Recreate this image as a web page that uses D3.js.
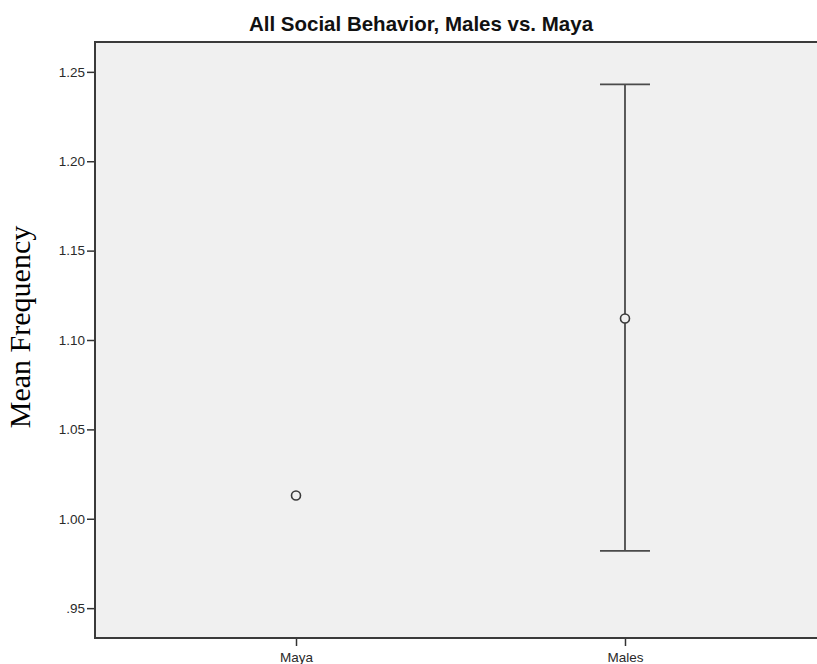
<!DOCTYPE html>
<html>
<head>
    <meta charset="utf-8">
    <title>All Social Behavior, Males vs. Maya</title>
    <style>
        body {
            margin: 0;
            background: #ffffff;
        }
        svg {
            display: block;
        }
        .axis text {
            font-family: "Liberation Sans", Arial, sans-serif;
            font-size: 13.5px;
            fill: #2a2a2a;
        }
        .axis line {
            stroke: #333333;
            stroke-width: 1.5px;
        }
        .axis path {
            display: none;
        }
    </style>
    <script src="https://cdn.jsdelivr.net/npm/d3@7"></script>
</head>
<body>
<script>
    // data
    const groups = ["Maya", "Males"];
    const means = [1.013, 1.112];
    const lowerCI = [null, 0.982];
    const upperCI = [null, 1.243];
    const yTicks = [0.95, 1.00, 1.05, 1.10, 1.15, 1.20, 1.25];
    const yDomain = [0.9333, 1.2667];

    const width = 817,
        height = 664,
        margin = {top: 42, left: 95},
        plotW = 731,
        plotH = 596;

    let svg = d3.select('body').append('svg')
        .attr('width', width)
        .attr('height', height);

    let g = svg.append('g')
        .attr('transform', 'translate(' + margin.left + ',' + margin.top + ')');

    let x = d3.scalePoint()
        .domain(groups)
        .range([0, plotW])
        .padding(0.611);

    let y = d3.scaleLinear()
        .domain(yDomain)
        .range([plotH, 0]);

    // plot background
    g.append('rect')
        .attr('width', plotW)
        .attr('height', plotH)
        .attr('fill', '#f0f0f0');

    // axes
    g.append('g')
        .attr('class', 'axis y')
        .call(d3.axisLeft(y)
            .tickValues(yTicks)
            .tickSize(8)
            .tickPadding(2)
            .tickFormat(d => d3.format('.2f')(d).replace(/^0/, '')));

    g.append('g')
        .attr('class', 'axis x')
        .attr('transform', 'translate(0,' + plotH + ')')
        .call(d3.axisBottom(x)
            .tickSize(8)
            .tickPadding(6));

    // frame (top, left, bottom; right side runs off the page)
    g.append('path')
        .attr('d', 'M' + plotW + ',0H0V' + plotH + 'H' + plotW)
        .attr('fill', 'none')
        .attr('stroke', '#3a3a3a')
        .attr('stroke-width', 2);

    // error bars
    const capHalf = 25;
    let bars = g.append('g')
        .attr('class', 'errorbars')
        .selectAll('g')
        .data(groups.map((d, i) => ({group: d, lo: lowerCI[i], hi: upperCI[i]})).filter(d => d.lo != null))
        .enter().append('g')
        .attr('stroke', '#4a4a4a')
        .attr('stroke-width', 1.8);

    bars.append('line')
        .attr('x1', d => x(d.group))
        .attr('x2', d => x(d.group))
        .attr('y1', d => y(d.lo))
        .attr('y2', d => y(d.hi));

    bars.append('line')
        .attr('x1', d => x(d.group) - capHalf)
        .attr('x2', d => x(d.group) + capHalf)
        .attr('y1', d => y(d.hi))
        .attr('y2', d => y(d.hi));

    bars.append('line')
        .attr('x1', d => x(d.group) - capHalf)
        .attr('x2', d => x(d.group) + capHalf)
        .attr('y1', d => y(d.lo))
        .attr('y2', d => y(d.lo));

    // mean markers
    g.append('g')
        .selectAll('circle')
        .data(groups)
        .enter().append('circle')
        .attr('cx', d => x(d))
        .attr('cy', (d, i) => y(means[i]))
        .attr('r', 4.5)
        .attr('fill', '#f0f0f0')
        .attr('stroke', '#3a3a3a')
        .attr('stroke-width', 1.6);

    // title
    svg.append('text')
        .attr('x', 421)
        .attr('y', 31)
        .attr('text-anchor', 'middle')
        .attr('font-family', '"Liberation Sans", Arial, sans-serif')
        .attr('font-weight', 'bold')
        .attr('font-size', '20.5px')
        .attr('fill', '#111')
        .text('All Social Behavior, Males vs. Maya');

    // y axis title
    svg.append('text')
        .attr('transform', 'translate(30,327) rotate(-90)')
        .attr('text-anchor', 'middle')
        .attr('font-family', '"Liberation Serif", "Times New Roman", serif')
        .attr('font-size', '30px')
        .attr('fill', '#000')
        .text('Mean Frequency');
</script>
</body>
</html>
